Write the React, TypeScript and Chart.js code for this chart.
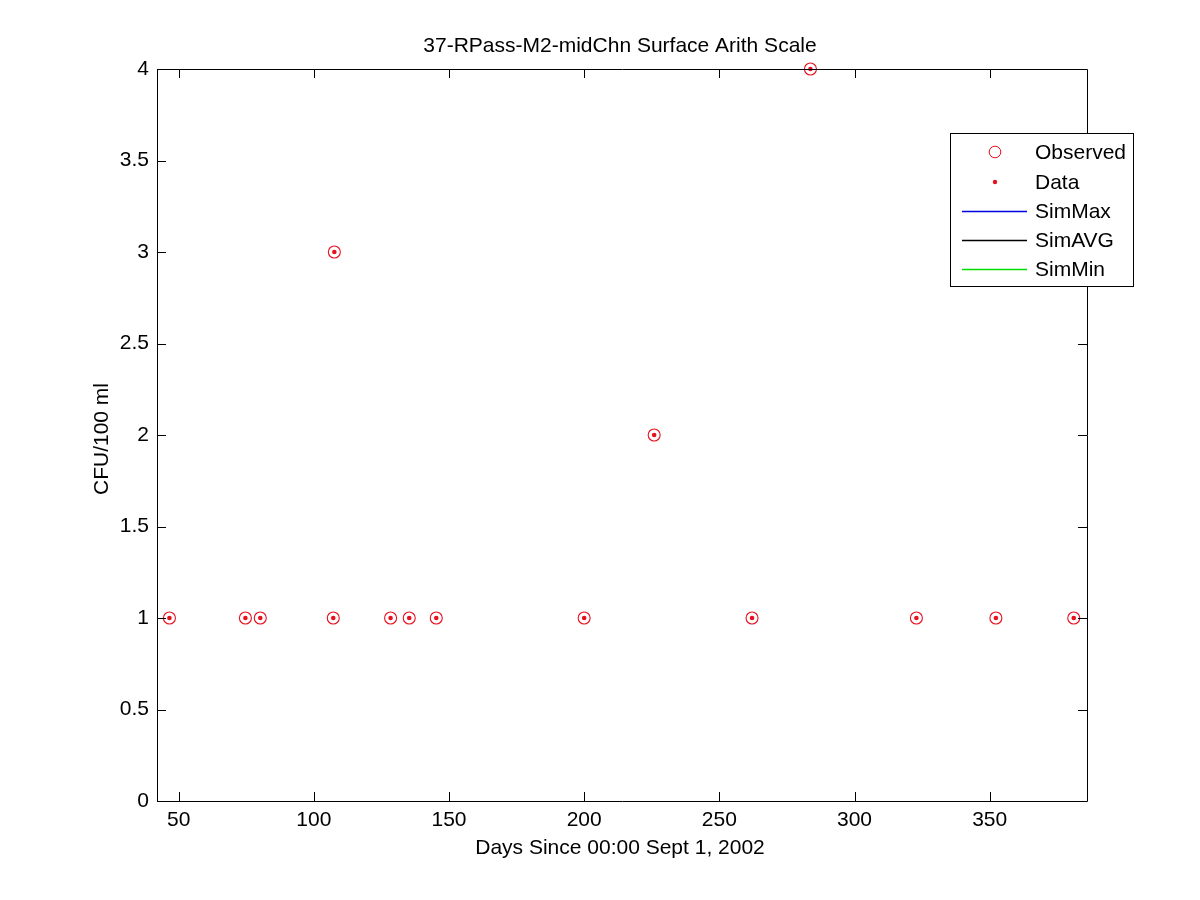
import React, { useEffect, useRef } from "react";
import { Chart, registerables } from "chart.js";

Chart.register(...registerables);

const chartTitle = "37-RPass-M2-midChn Surface Arith Scale";
const xTitle = "Days Since 00:00 Sept 1, 2002";
const yTitle = "CFU/100 ml";

const obsDays = [46.6, 74.7, 80.2, 107.2, 107.6, 128.4, 135.3, 145.3, 200.0, 225.9, 262.1, 283.7, 322.9, 352.3, 381.1];
const obsValues = [1, 1, 1, 1, 3, 1, 1, 1, 1, 2, 1, 4, 1, 1, 1];

const xTicks = [50, 100, 150, 200, 250, 300, 350];
const yTicks = [0, 0.5, 1, 1.5, 2, 2.5, 3, 3.5, 4];
const xMin = 42;
const xMax = 386;
const yMin = 0;
const yMax = 4;

const legendLabels = ["Observed", "Data", "SimMax", "SimAVG", "SimMin"];
const simColors = ["#0000e0", "#000000", "#00dd00"];

const RED = "#e8101e";
const FONT = "'Liberation Sans', Arial, sans-serif";
const FS = 21;

const PLOT_LEFT = 157;
const PLOT_RIGHT = 1087;
const PLOT_TOP = 69;
const PLOT_BOTTOM = 801;

const framePlugin = {
  id: "matlabFrame",
  afterDraw(chart: any) {
    const ctx = chart.ctx as CanvasRenderingContext2D;
    const a = chart.chartArea;
    const xs = chart.scales.x;
    const ys = chart.scales.y;
    ctx.save();
    ctx.strokeStyle = "#000";
    ctx.lineWidth = 1;
    ctx.beginPath();
    ctx.rect(Math.round(a.left) + 0.5, Math.round(a.top) + 0.5, Math.round(a.right - a.left), Math.round(a.bottom - a.top));
    ctx.stroke();
    const tl = 9;
    ctx.beginPath();
    xTicks.forEach((v) => {
      const px = Math.round(xs.getPixelForValue(v)) + 0.5;
      ctx.moveTo(px, a.bottom);
      ctx.lineTo(px, a.bottom - tl);
      ctx.moveTo(px, a.top);
      ctx.lineTo(px, a.top + tl);
    });
    yTicks.forEach((v) => {
      const py = Math.round(ys.getPixelForValue(v)) + 0.5;
      ctx.moveTo(a.left, py);
      ctx.lineTo(a.left + tl, py);
      ctx.moveTo(a.right, py);
      ctx.lineTo(a.right - tl, py);
    });
    ctx.stroke();

    ctx.fillStyle = "#000";
    ctx.font = `${FS}px ${FONT}`;
    ctx.textAlign = "center";
    ctx.textBaseline = "middle";
    const cx = (a.left + a.right) / 2;
    ctx.fillText(chartTitle, cx - 2, 46);
    ctx.fillText(xTitle, cx - 2, 848);
    ctx.save();
    ctx.translate(102, (a.top + a.bottom) / 2 + 4);
    ctx.rotate(-Math.PI / 2);
    ctx.fillText(yTitle, 0, 0);
    ctx.restore();

    // legend
    const lx = 950.5, ly = 133.5, lw = 183, lh = 153;
    ctx.fillStyle = "#fff";
    ctx.fillRect(lx, ly, lw, lh);
    ctx.strokeStyle = "#000";
    ctx.lineWidth = 1;
    ctx.strokeRect(lx, ly, lw, lh);
    const ds = chart.data.datasets;
    const rowY = [152, 182, 211, 240, 269];
    ds.forEach((d: any, i: number) => {
      const y = rowY[i];
      if (i === 0) {
        ctx.strokeStyle = RED;
        ctx.lineWidth = 1;
        ctx.beginPath();
        ctx.arc(995, y, 5.8, 0, Math.PI * 2);
        ctx.stroke();
      } else if (i === 1) {
        ctx.fillStyle = RED;
        ctx.beginPath();
        ctx.arc(995, y, 2.2, 0, Math.PI * 2);
        ctx.fill();
      } else {
        ctx.strokeStyle = simColors[i - 2];
        ctx.lineWidth = 1.4;
        ctx.beginPath();
        ctx.moveTo(962, y + 0.5);
        ctx.lineTo(1027, y + 0.5);
        ctx.stroke();
      }
      ctx.fillStyle = "#000";
      ctx.textAlign = "left";
      ctx.textBaseline = "middle";
      ctx.font = `${FS}px ${FONT}`;
      ctx.fillText(d.label, 1035, y + 1);
    });
    ctx.restore();
  },
};

export default function App() {
  const ref = useRef<HTMLCanvasElement | null>(null);
  useEffect(() => {
    if (!ref.current) return;
    const pts = obsDays.map((x, i) => ({ x, y: obsValues[i] }));
    const chart = new Chart(ref.current, {
      type: "scatter",
      data: {
        datasets: [
          {
            label: legendLabels[0],
            data: pts,
            pointStyle: "circle",
            pointRadius: 6,
            pointBorderWidth: 1.1,
            pointBorderColor: RED,
            pointBackgroundColor: "rgba(0,0,0,0)",
            showLine: false,
            clip: false as any,
          },
          {
            label: legendLabels[1],
            data: pts,
            pointStyle: "circle",
            pointRadius: 2.3,
            pointBorderWidth: 0,
            pointBackgroundColor: RED,
            showLine: false,
            clip: false as any,
          },
          { label: legendLabels[2], data: [], borderColor: simColors[0], showLine: true, pointRadius: 0 },
          { label: legendLabels[3], data: [], borderColor: simColors[1], showLine: true, pointRadius: 0 },
          { label: legendLabels[4], data: [], borderColor: simColors[2], showLine: true, pointRadius: 0 },
        ],
      },
      options: {
        animation: false,
        responsive: true,
        maintainAspectRatio: false,
        layout: { padding: { left: 0, right: 1200 - PLOT_RIGHT, top: PLOT_TOP, bottom: 0 } },
        plugins: { legend: { display: false }, tooltip: { enabled: false }, title: { display: false } },
        scales: {
          x: {
            type: "linear",
            min: xMin,
            max: xMax,
            grid: { display: false, drawTicks: false },
            border: { display: false },
            ticks: { color: "#000", font: { family: FONT, size: FS }, padding: 7, maxRotation: 0, callback: (v: any) => String(v) },
            afterBuildTicks: (s: any) => {
              s.ticks = xTicks.map((v) => ({ value: v }));
            },
            afterFit: (s: any) => {
              s.height = 900 - PLOT_BOTTOM;
            },
          },
          y: {
            type: "linear",
            min: yMin,
            max: yMax,
            grid: { display: false, drawTicks: false },
            border: { display: false },
            ticks: { color: "#000", font: { family: FONT, size: FS }, padding: 8, callback: (v: any) => String(v) },
            afterBuildTicks: (s: any) => {
              s.ticks = yTicks.map((v) => ({ value: v }));
            },
            afterFit: (s: any) => {
              s.width = PLOT_LEFT;
            },
          },
        },
      },
      plugins: [framePlugin],
    });
    return () => chart.destroy();
  }, []);
  return (
    <div style={{ position: "absolute", left: 0, top: 0, width: 1200, height: 900, background: "#fff" }}>
      <canvas ref={ref} />
    </div>
  );
}
